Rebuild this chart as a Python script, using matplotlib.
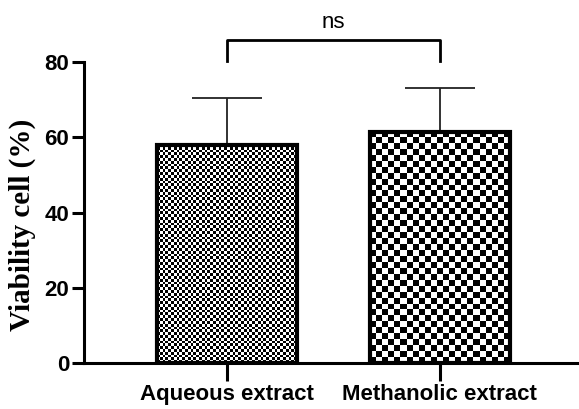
import numpy as np
import matplotlib
matplotlib.use("Agg")
import matplotlib.pyplot as plt

categories = ["Aqueous extract", "Methanolic extract"]
means = [58.0, 61.5]
errors = [12.5, 11.5]
yticks = [0, 20, 40, 60, 80]
sig_label = "ns"

fig = plt.figure(figsize=(5.79, 4.09), dpi=100)
ax = fig.add_axes([0.145, 0.1125, 0.855, 0.7355])

x = np.arange(len(categories))
width = 0.657
bars = ax.bar(x, means, width=width, facecolor="none", edgecolor="black", linewidth=3.0, zorder=3)
ax.errorbar(x, means, yerr=[np.zeros(len(errors)), errors], fmt="none", ecolor="#222222",
            elinewidth=1.3, capsize=25, capthick=1.3, zorder=2)

# checkerboard fills
cells = [2.8, 6.0]  # px per cell
px_per_x = 213.0
px_per_y = 301.0 / 80
for b, c in zip(bars, cells):
    x0, y0 = b.get_x(), b.get_y()
    w, h = b.get_width(), b.get_height()
    nx = int(round(w * px_per_x / c))
    ny = int(round(h * px_per_y / c))
    img = (np.indices((ny, nx)).sum(axis=0) % 2).astype(float)
    im = ax.imshow(img, cmap="gray", extent=[x0, x0 + w, y0, y0 + h], origin="lower",
                   interpolation="nearest", aspect="auto", zorder=2.5, vmin=0, vmax=1)
    im.set_clip_path(b)

ax.set_xlim(-0.671, 1.653)
ax.set_ylim(0, 80)
ax.set_yticks(yticks)
ax.set_xticks(x)
ax.set_xticklabels(categories)
for s in ["top", "right"]:
    ax.spines[s].set_visible(False)
ax.spines["left"].set_linewidth(2.2)
ax.spines["bottom"].set_linewidth(2.2)
ax.tick_params(axis="y", length=9, width=2.2, labelsize=16, pad=1.5)
ax.tick_params(axis="x", length=13, width=2.2, labelsize=16, pad=2)
for lab in ax.get_xticklabels() + ax.get_yticklabels():
    lab.set_fontfamily("Liberation Sans")
    lab.set_fontweight("bold")

ax.set_ylabel("Viability cell (%)", fontfamily="Liberation Serif", fontweight="bold",
              fontsize=21)
ax.yaxis.set_label_coords(-0.096, 0.46)

# significance bracket
ytop = 85.8
ybot = 80.2
ax.plot([x[0], x[0], x[1], x[1]], [ybot, ytop, ytop, ybot], color="black", lw=2.0,
        clip_on=False)
ax.text((x[0] + x[1]) / 2, ytop + 2.0, sig_label, ha="center", va="bottom", fontsize=16,
        fontfamily="Liberation Sans")

fig.savefig("out.png", dpi=100)
